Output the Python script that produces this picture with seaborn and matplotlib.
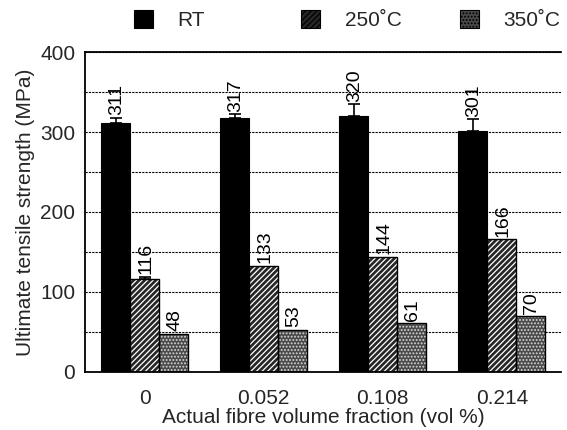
import numpy as np
import pandas as pd
import matplotlib
matplotlib.use("Agg")
import matplotlib.pyplot as plt
import seaborn as sns
from matplotlib.patches import Patch, Rectangle

fractions = ["0", "0.052", "0.108", "0.214"]
temps = ["RT", "250\u02daC", "350\u02daC"]
rt_vals = [311, 317, 320, 301]
t250_vals = [116, 133, 144, 166]
t350_vals = [48, 53, 61, 70]
rt_err = [7, 5, 15, 15]
t250_err = [3, 0, 0, 0]
t350_err = [0, 0, 0, 0]

rows = []
for t, vals in zip(temps, [rt_vals, t250_vals, t350_vals]):
    for f, v in zip(fractions, vals):
        rows.append({"frac": f, "uts": v, "temp": t})
df = pd.DataFrame(rows)

sns.set_style("white")
plt.rcParams["font.family"] = ["Liberation Sans", "DejaVu Sans"]
plt.rcParams["hatch.linewidth"] = 0.9

fig = plt.figure(figsize=(5.67, 4.30), dpi=100)
ax = fig.add_axes([0.150, 0.135, 0.840, 0.744])

palette = ["#000000", "#262626", "#4a4a4a"]
sns.barplot(data=df, x="frac", y="uts", hue="temp", palette=palette,
            width=0.73, gap=0, errorbar=None, ax=ax, legend=False,
            edgecolor="black", linewidth=0.8, saturation=1)

hatches = [None, "//////", "....."]
bar_conts = list(ax.containers)
for cont, h in zip(bar_conts, hatches):
    for p in cont.patches:
        if h:
            p.set_hatch(h)
            p.set_edgecolor("#d8d8d8" if h.startswith(".") else "white")
            p.set_linewidth(0)
            ax.add_patch(Rectangle(p.get_xy(), p.get_width(), p.get_height(),
                                   fill=False, edgecolor="black", linewidth=1.0,
                                   zorder=p.get_zorder() + 0.1))

errs = [rt_err, t250_err, t350_err]
allvals = [rt_vals, t250_vals, t350_vals]
for cont, e, vals in zip(bar_conts, errs, allvals):
    xs = [p.get_x() + p.get_width() / 2 for p in cont.patches]
    for x, v, er in zip(xs, vals, e):
        if er > 0:
            ax.errorbar([x], [v], yerr=[[0], [er]], fmt="none", ecolor="black",
                        elinewidth=1.2, capsize=4, capthick=1.2)
        ax.text(x + 0.01, v + er + 3, str(v), rotation=90, ha="center",
                va="bottom", fontsize=14, color="black")

ax.set_ylim(0, 400)
ax.set_xlim(-0.5, 3.5)
ax.set_yticks([0, 100, 200, 300, 400])
ax.set_yticks([50, 150, 250, 350], minor=True)
ax.yaxis.grid(True, which="both", linestyle=(0, (2, 1)), color="black", linewidth=0.8)
ax.set_axisbelow(True)
ax.set_xticks([0, 1, 2, 3])
ax.set_xticks([0.5, 1.5, 2.5], minor=True)
ax.tick_params(axis="x", which="major", length=0, labelsize=15, pad=12)
ax.tick_params(axis="x", which="minor", length=4, direction="in", width=1.2)
ax.tick_params(axis="y", which="major", length=8, direction="inout", width=1.2,
               labelsize=15, pad=3)
ax.tick_params(axis="y", which="minor", length=0)
for s in ["left", "bottom", "top"]:
    ax.spines[s].set_visible(True)
    ax.spines[s].set_color("black")
    ax.spines[s].set_linewidth(1.3)
ax.spines["right"].set_visible(False)

ax.set_xlabel("Actual fibre volume fraction (vol %)", fontsize=15, labelpad=0)
ax.set_ylabel("Ultimate tensile strength (MPa)", fontsize=15, labelpad=4)

legend_x = [0.236, 0.531, 0.811]
for i in range(3):
    h = Patch(facecolor=palette[i], edgecolor="black", hatch=hatches[i], linewidth=0.8)
    leg = fig.legend([h], [temps[i]], loc="center left",
                     bbox_to_anchor=(legend_x[i], 0.953), frameon=False,
                     fontsize=15, handlelength=0.9, handleheight=0.9,
                     handletextpad=1.2, borderpad=0, borderaxespad=0)

fig.savefig("out.png", dpi=100)
